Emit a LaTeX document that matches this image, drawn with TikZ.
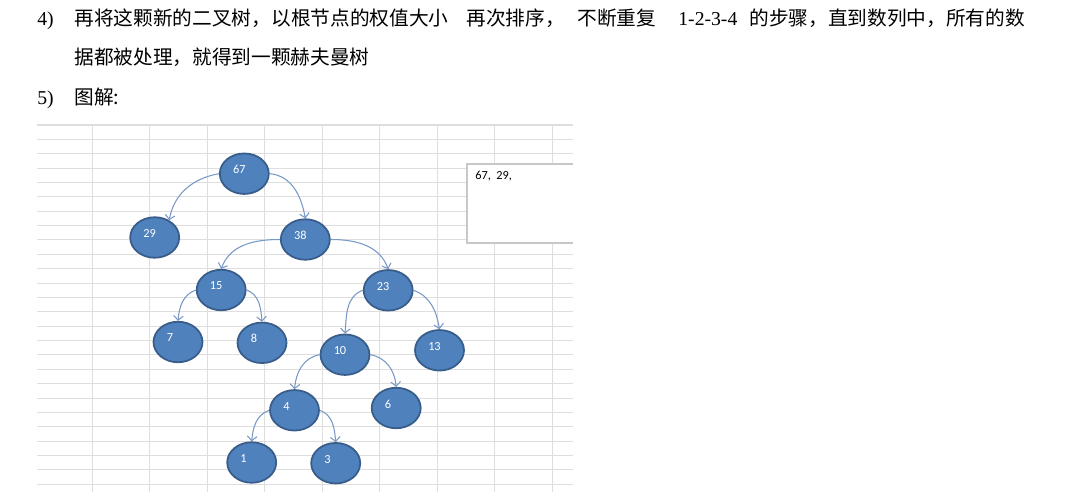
\documentclass[tikz,border=0pt]{standalone}
\usepackage{fontspec}
\setmainfont{Liberation Serif}
\newfontfamily\cjk{Noto Sans CJK SC}
\newfontfamily\calibri{Carlito}
\usetikzlibrary{arrows.meta, shapes.geometric}
\definecolor{nodefill}{RGB}{79,129,189}
\definecolor{nodeline}{RGB}{56,93,138}
\definecolor{linkblue}{RGB}{120,152,198}
\definecolor{gridgray}{RGB}{222,222,222}
\definecolor{boxgray}{RGB}{200,200,200}

\begin{document}
\begin{tikzpicture}[
  x=0.02cm, y=-0.02cm,
  hnode/.style={
    ellipse, draw=nodeline, fill=nodefill, line width=1pt,
    minimum width=0.98cm, minimum height=0.81cm, inner sep=0pt,
    label={[numlbl]center:\makebox[0.45cm][l]{#1}}
  },
  numlbl/.style={text=white, font=\calibri\fontsize{7}{8}\selectfont, yshift=0.08cm, inner sep=0pt},
  link/.style={-{Straight Barb[length=2.5pt,width=5.5pt]}, draw=linkblue, line width=0.6pt},
  gridline/.style={draw=gridgray, line width=0.6pt},
  para/.style={anchor=base west, inner sep=0pt, font=\cjk\fontsize{11.2}{13}\selectfont},
  latin/.style={anchor=base west, inner sep=0pt, font=\fontsize{11.2}{13}\selectfont}
]
\path[fill=white, use as bounding box] (0,0) rectangle (1088,496);

% text above the figure
\node[latin] (p4) at (37,25.5) {4)};
\node[para] (l1a) at (74,25.5) {再将这颗新的二叉树，};
\node[para] (l1b) at (271,25.5) {以根节点的权值大小};
\node[para] (l1c) at (466,25.5) {再次排序，};
\node[para] (l1d) at (577,25.5) {不断重复};
\node[latin] (l1e) at (678,25.5) {1-2-3-4};
\node[para] (l1f) at (749,25.5) {的步骤，直到数列中，所有的数};
\node[para] (l2) at (74,64.5) {据都被处理，就得到一颗赫夫曼树};
\node[latin] (p5) at (37,104.5) {5)};
\node[para] (l3) at (74,104.5) {图解:};

% sheet grid
\foreach \gy in {0,...,25}
  \draw[gridline] (37,{125+\gy*14.37}) -- (573,{125+\gy*14.37});
\foreach \gx in {0,...,8}
  \draw[gridline] ({92.3+\gx*57.5},125) -- ({92.3+\gx*57.5},492);

% output box
\fill[white] (467,164) rectangle (573,243);
\draw[boxgray, line width=0.6pt] (573,164) -- (467,164) -- (467,243) -- (573,243);
\node[anchor=west, inner sep=0pt, font=\calibri\fontsize{7}{8}\selectfont] (seq) at (475,176) {67,\ \ 29,};

% tree
\node[hnode=67] (n67) at (244.3,173.7) {};
\node[hnode=29] (n29) at (154.7,237.5) {};
\node[hnode=38] (n38) at (305.3,239.5) {};
\node[hnode=15] (n15) at (221.2,290) {};
\node[hnode=23] (n23) at (388.2,290.3) {};
\node[hnode=7] (n7) at (178,342) {};
\node[hnode=8] (n8) at (262,342.8) {};
\node[hnode=10] (n10) at (345,354.7) {};
\node[hnode=13] (n13) at (439.5,350.3) {};
\node[hnode=4] (n4) at (294.5,410.3) {};
\node[hnode=6] (n6) at (396.2,408) {};
\node[hnode=1] (n1) at (251.7,462.5) {};
\node[hnode=3] (n3) at (335.7,463.2) {};

\draw[link] (n67.west) to[out=190,in=80] (n29.50);
\draw[link] (n67.east) to[out=-5,in=100] (n38.north);
\draw[link] (n38.west) to[out=180,in=70] (n15.north);
\draw[link] (n38.east) to[out=0,in=110] (n23.north);
\draw[link] (n15.west) to[out=200,in=85] (n7.north);
\draw[link] (n15.east) to[out=-20,in=95] (n8.north);
\draw[link] (n23.west) to[out=200,in=85] (n10.north);
\draw[link] (n23.east) to[out=-20,in=100] (n13.north);
\draw[link] (n10.west) to[out=190,in=85] (n4.north);
\draw[link] (n10.east) to[out=-10,in=95] (n6.north);
\draw[link] (n4.west) to[out=200,in=85] (n1.north);
\draw[link] (n4.east) to[out=-20,in=95] (n3.north);

\end{tikzpicture}
\end{document}
